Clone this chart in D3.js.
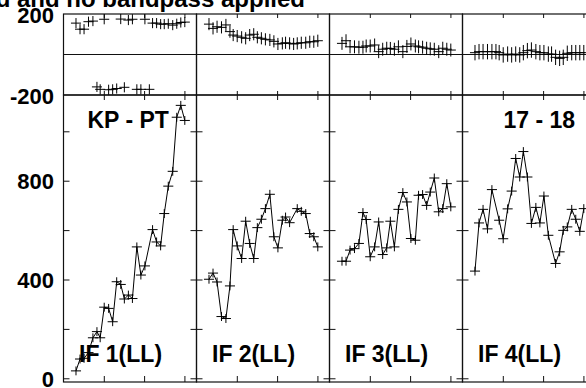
<!DOCTYPE html>
<html>
<head>
<meta charset="utf-8">
<script src="https://cdn.jsdelivr.net/npm/d3@7"></script>
<style>
  body { margin: 0; background: #fff; }
  svg { display: block; font-family: 'Liberation Sans', Arial, sans-serif; font-weight: bold; }
</style>
</head>
<body>
<div id="wrapper"></div>
<script>
// Data
const ifLabels = ['IF 1(LL)', 'IF 2(LL)', 'IF 3(LL)', 'IF 4(LL)'];
const baselineLabel = 'KP - PT';
const timeLabel = '17 - 18';
const titleText = 'd and no bandpass applied';

const times = [0.31, 0.41, 0.51, 0.62, 0.73, 0.83, 0.91, 1.01, 1.12, 1.22, 1.32, 1.42, 1.51, 1.61,
  1.71, 1.82, 1.92, 2.02, 2.13, 2.21, 2.31, 2.41, 2.50, 2.60, 2.71, 2.81, 2.91, 3.01];

const amp1 = [30, 78, 81, 104, 164, 189, 164, 288, 283, 229, 391, 380, 321, 337, 323, 532, 418, 455,
  null, 602, 552, 536, 667, 778, 838, 1057, 1105, 1044];
const amp2 = [401, 426, 390, 250, 242, 374, 602, 536, 485, 636, 546, 485, 610, 644, 687, 745, 573, 528,
  640, 653, 630, null, 687, 676, 667, 586, 573, 532];
const amp3 = [474, 474, 519, 525, 546, 671, 643, 492, 532, 633, 501, 528, 636, 532, 684, 752, 714, 566,
  559, 741, 744, 700, 754, 811, 674, 687, 788, 694];
const amp4 = [434, 629, 684, 605, 764, null, 640, 565, 686, 758, 890, 815, 918, 815, 627, 692, 629, 738,
  579, null, 465, 512, 599, 613, 684, 644, 595, 687];

const phase1 = [155, 125, 125, 162, 165, -160, -172, 174, -174, -172, -168, 175, -162, 170, 174, -172,
  -172, 174, -172, 155, 155, 150, 150, 152, 145, 152, 158, 160];
const phase2 = [150, 129, 137, 134, 146, 113, 96, 91, 85, 80, 96, 100, 85, 80, 75, 72, 65, 52, 55, 58,
  55, 52, 55, 58, 58, 63, 63, 68];
const phase3 = [55, 68, 38, 38, 36, 36, 42, 42, 47, 14, 26, 31, 30, 26, 38, 14, 40, 52, 42, 38, 36, 31,
  28, 26, 14, 31, 26, 22];
const phase4 = [9, 14, 14, 14, 14, 14, 9, -2, 2, -2, 2, -2, 9, 19, 22, 14, 9, 9, 2, 2, -14, -19, -14, 6,
  9, 9, 9, 9];

const phaseErr = [25, 30, 32, 38];
const ampErr = 18;
const halfInterval = 0.125;

const ampTicks = [0, 200, 400, 600, 800, 1000];
const ampTickLabels = [0, 400, 800];
const phaseTickLabels = [200, -200];
const timeTicks = [1, 2, 3];

function drawChart() {
  const ampSeries = [amp1, amp2, amp3, amp4];
  const phaseSeries = [phase1, phase2, phase3, phase4];

  let dimensions = {
    width: 586,
    height: 388,
    left: 63.5,
    colWidth: 133,
    phaseTop: 14,
    phaseBottom: 95,
    ampBottom: 382,
  };

  // Scales
  const colScale = d3
    .scaleBand()
    .domain(ifLabels)
    .range([dimensions.left, dimensions.left + dimensions.colWidth * ifLabels.length]);

  const phaseScale = d3
    .scaleLinear()
    .domain([-200, 200])
    .range([dimensions.phaseBottom, dimensions.phaseTop]);

  const ampScale = d3
    .scaleLinear()
    .domain([-15, 1147])
    .range([dimensions.ampBottom, dimensions.phaseBottom]);

  const svg = d3
    .select('#wrapper')
    .append('svg')
    .attr('width', dimensions.width)
    .attr('height', dimensions.height);

  // Title (cut off at top)
  svg
    .append('text')
    .attr('x', 305)
    .attr('y', 6.5)
    .attr('text-anchor', 'end')
    .style('font-size', '24px')
    .text(titleText);

  // Y tick labels
  svg
    .selectAll('.phase-label')
    .data(phaseTickLabels)
    .join('text')
    .attr('x', 54)
    .attr('y', (d) => phaseScale(d) + 8.5)
    .attr('text-anchor', 'end')
    .style('font-size', '22px')
    .text((d) => d);

  svg
    .selectAll('.amp-label')
    .data(ampTickLabels)
    .join('text')
    .attr('x', 54)
    .attr('y', (d) => ampScale(d) + 8.5)
    .attr('text-anchor', 'end')
    .style('font-size', '22px')
    .text((d) => d);

  ifLabels.forEach((label, i) => {
    const x0 = colScale(label);
    const x1 = x0 + colScale.bandwidth();
    const xScale = d3.scaleLinear().domain([0, 3.3]).range([x0, x1]);
    const g = svg.append('g');

    const points = times.map((t, j) => ({
      t,
      amp: ampSeries[i][j],
      phase: phaseSeries[i][j],
    }));

    // Frames
    g.append('rect')
      .attr('x', x0)
      .attr('y', dimensions.phaseTop)
      .attr('width', x1 - x0)
      .attr('height', dimensions.phaseBottom - dimensions.phaseTop)
      .attr('fill', 'none')
      .attr('stroke', '#111')
      .attr('stroke-width', 1.2);

    g.append('rect')
      .attr('x', x0)
      .attr('y', dimensions.phaseBottom)
      .attr('width', x1 - x0)
      .attr('height', dimensions.ampBottom - dimensions.phaseBottom)
      .attr('fill', 'none')
      .attr('stroke', '#111')
      .attr('stroke-width', 1.2);

    g.append('line')
      .attr('x1', x0)
      .attr('x2', x1)
      .attr('y1', phaseScale(0))
      .attr('y2', phaseScale(0))
      .attr('stroke', '#111')
      .attr('stroke-width', 1);

    // Axes (ticks inward only)
    const clean = (sel) => {
      sel.select('.domain').remove();
      sel.selectAll('text').remove();
      sel.selectAll('line').attr('stroke', '#111');
    };

    g.append('g')
      .attr('transform', `translate(${x0},0)`)
      .call(d3.axisLeft(ampScale).tickValues(ampTicks).tickSize(-6))
      .call(clean);
    g.append('g')
      .attr('transform', `translate(${x1},0)`)
      .call(d3.axisRight(ampScale).tickValues(ampTicks).tickSize(-6))
      .call(clean);
    g.append('g')
      .attr('transform', `translate(0,${dimensions.ampBottom})`)
      .call(d3.axisBottom(xScale).tickValues(timeTicks).tickSize(-6))
      .call(clean);
    g.append('g')
      .attr('transform', `translate(0,${dimensions.phaseBottom})`)
      .call(d3.axisTop(xScale).tickValues(timeTicks).tickSize(-5))
      .call(clean);
    g.append('g')
      .attr('transform', `translate(0,${dimensions.phaseBottom})`)
      .call(d3.axisBottom(xScale).tickValues(timeTicks).tickSize(-4))
      .call(clean);
    g.append('g')
      .attr('transform', `translate(0,${dimensions.phaseTop})`)
      .call(d3.axisTop(xScale).tickValues(timeTicks).tickSize(-4))
      .call(clean);

    // Amplitude line
    const ampPoints = points.filter((d) => d.amp != null);
    const lineGenerator = d3
      .line()
      .x((d) => xScale(d.t))
      .y((d) => ampScale(d.amp));

    g.append('path')
      .attr('d', lineGenerator(ampPoints))
      .attr('fill', 'none')
      .attr('stroke', '#000')
      .attr('stroke-width', 1);

    // Amplitude crosses
    const ampCross = g.append('g').attr('stroke', '#000').attr('stroke-width', 1);
    ampCross
      .selectAll('.h')
      .data(ampPoints)
      .join('line')
      .attr('x1', (d) => xScale(d.t - halfInterval))
      .attr('x2', (d) => xScale(d.t + halfInterval))
      .attr('y1', (d) => ampScale(d.amp))
      .attr('y2', (d) => ampScale(d.amp));
    ampCross
      .selectAll('.v')
      .data(ampPoints)
      .join('line')
      .attr('x1', (d) => xScale(d.t))
      .attr('x2', (d) => xScale(d.t))
      .attr('y1', (d) => ampScale(d.amp - ampErr))
      .attr('y2', (d) => ampScale(d.amp + ampErr));

    // Phase crosses
    const phCross = g.append('g').attr('stroke', '#000').attr('stroke-width', 1);
    phCross
      .selectAll('.h')
      .data(points)
      .join('line')
      .attr('x1', (d) => xScale(d.t - halfInterval))
      .attr('x2', (d) => xScale(d.t + halfInterval))
      .attr('y1', (d) => phaseScale(d.phase))
      .attr('y2', (d) => phaseScale(d.phase));
    phCross
      .selectAll('.v')
      .data(points)
      .join('line')
      .attr('x1', (d) => xScale(d.t))
      .attr('x2', (d) => xScale(d.t))
      .attr('y1', (d) => phaseScale(d.phase - phaseErr[i]))
      .attr('y2', (d) => phaseScale(d.phase + phaseErr[i]));

    // IF label
    g.append('text')
      .attr('x', x0 + 15.5)
      .attr('y', 361.5)
      .style('font-size', '23px')
      .text(label);
  });

  // Baseline and time labels
  const first = colScale(ifLabels[0]);
  const last = colScale(ifLabels[ifLabels.length - 1]);
  svg
    .append('text')
    .attr('x', first + 24)
    .attr('y', 128)
    .style('font-size', '23px')
    .text(baselineLabel);
  svg
    .append('text')
    .attr('x', last + 41)
    .attr('y', 128)
    .style('font-size', '23px')
    .text(timeLabel);
}
drawChart();
</script>
</body>
</html>
